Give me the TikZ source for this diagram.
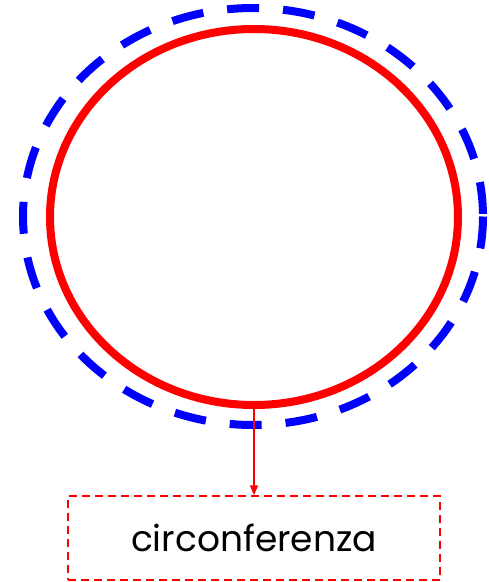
\documentclass[tikz,border=0pt]{standalone}
\usepackage{fontspec}
\setmainfont{Poppins}
\usetikzlibrary{arrows.meta}
\tikzset{
  outer/.style={draw=blue, line width=8pt, dash pattern=on 32pt off 24pt},
  inner/.style={draw=red, line width=8pt},
  labelbox/.style={draw=red, line width=1.5pt, dash pattern=on 8pt off 5pt, minimum width=372pt, minimum height=84pt, inner sep=0pt, font=\fontsize{36}{42}\selectfont},
  conn/.style={draw=red, line width=1.5pt, -{Triangle[length=10pt,width=8pt]}}
}
\begin{document}
\begin{tikzpicture}[x=1pt,y=-1pt]
\useasboundingbox (0,0) rectangle (489,582);
\draw[outer] (253,216.5) ellipse [x radius=230, y radius=208.5];
\draw[inner] (254,217) ellipse [x radius=204, y radius=188];
\coordinate (bot) at (254,409);
\node[labelbox] (lbl) at (254,538) {circonferenza};
\draw[conn] (bot) -- (lbl.north);
\end{tikzpicture}
\end{document}
